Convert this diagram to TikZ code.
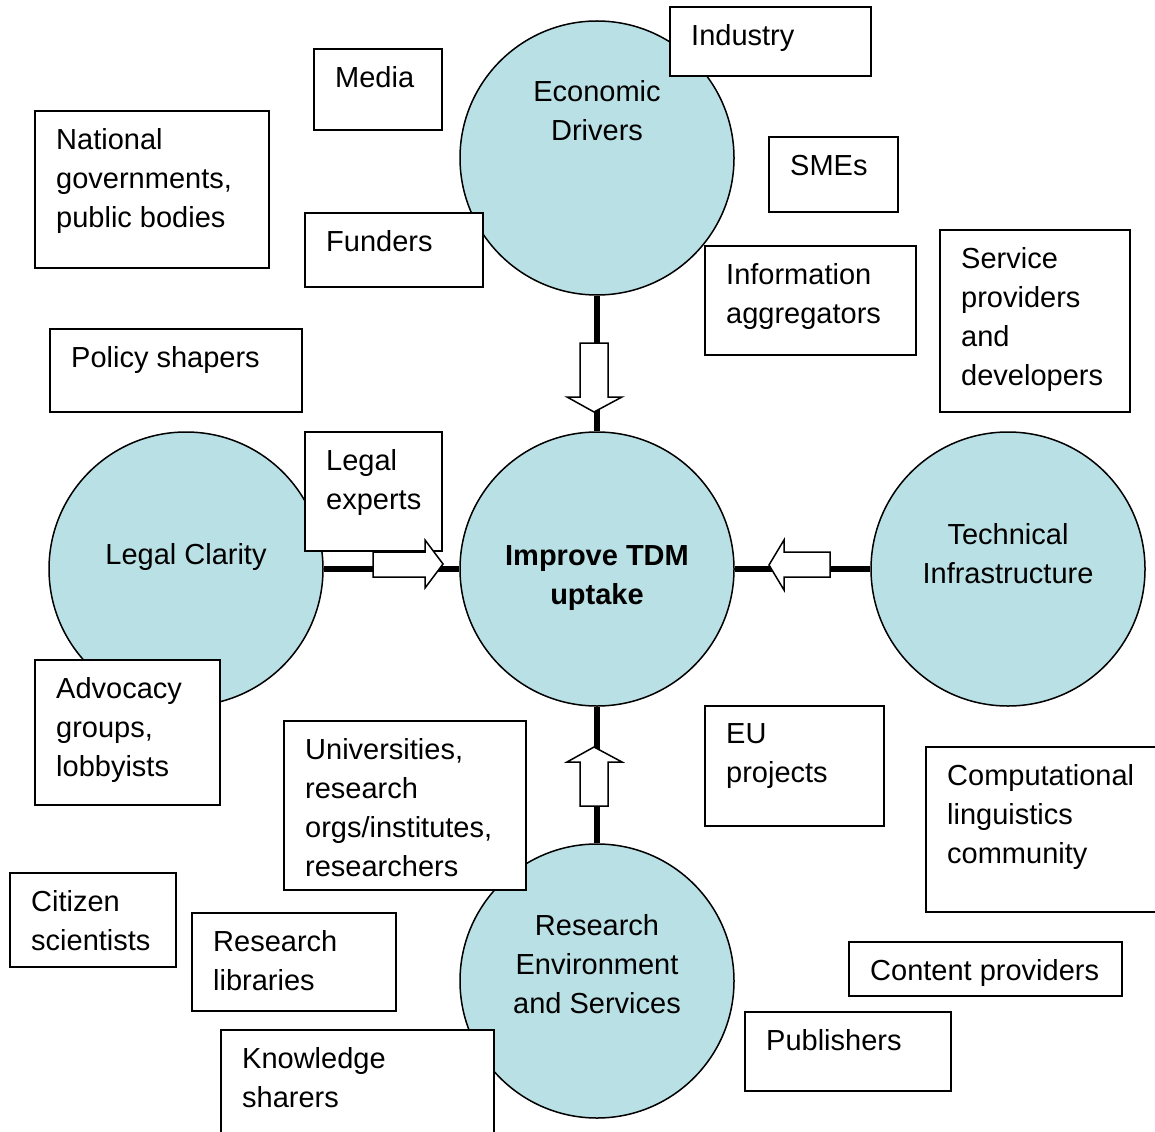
\documentclass[tikz,border=0pt]{standalone}
\usepackage{fontspec}
\setmainfont{Liberation Sans}
\usetikzlibrary{fit}
\definecolor{circfill}{RGB}{185,224,228}
\newcommand\tdmbox[6]{%
  \node[boxst, fit={(#2,#3) (#4,#5)}] (#1) {};
  \node[lbl, anchor=north west] (#1-t) at (#2+21,#3+17.6) {#6};}
\begin{document}
\begin{tikzpicture}[x=1pt,y=-1pt,
  every node/.style={font=\fontsize{29}{39}\selectfont},
  circst/.style={circle, draw=black, line width=1.5pt, fill=circfill, minimum size=274pt, inner sep=0},
  boxst/.style={rectangle, draw=black, line width=1.5pt, fill=white, inner sep=0, outer sep=0},
  lbl/.style={align=left, inner sep=0},
  clbl/.style={align=center, inner sep=0, anchor=north},
  conn/.style={line width=6pt, draw=black},
  blockarrow/.style={draw=black, fill=white, line width=1.5pt, line join=miter}]
\useasboundingbox (0,0) rectangle (1155,1131);
\fill[white] (0,0) rectangle (1155,1131);
% circles
\node[circst] (ed) at (597,158) {};
\node[circst] (tdm) at (597,569) {};
\node[circst] (leg) at (186,569) {};
\node[circst] (tech) at (1008,569) {};
\node[circst] (res) at (597,981) {};
% connectors
\draw[conn] (ed) -- (tdm);
\draw[conn] (leg) -- (tdm);
\draw[conn] (tech) -- (tdm);
\draw[conn] (res) -- (tdm);
% circle labels
\node[clbl] (ed-t) at (597,80.6) {Economic\\Drivers};
\node[clbl] (tdm-t) at (597,545.6) {\bfseries Improve TDM\\\bfseries uptake};
\node[clbl] (leg-t) at (186,543.6) {Legal Clarity};
\node[clbl] (tech-t) at (1008,523.6) {Technical\\Infrastructure};
\node[clbl] (res-t) at (597,914.6) {Research\\Environment\\and Services};
% boxes
\tdmbox{ind}{670}{7}{871}{76}{Industry}
\tdmbox{med}{314}{49}{442}{130}{Media}
\tdmbox{nat}{35}{111}{269}{268}{National\\governments,\\public bodies}
\tdmbox{sme}{769}{137}{898}{212}{SMEs}
\tdmbox{fun}{305}{213}{483}{287}{Funders}
\tdmbox{inf}{705}{246}{916}{355}{Information\\aggregators}
\tdmbox{ser}{940}{230}{1130}{412}{Service\\providers\\and\\developers}
\tdmbox{pol}{50}{329}{302}{412}{Policy shapers}
\tdmbox{lex}{305}{432}{442}{551}{Legal\\experts}
\tdmbox{adv}{35}{660}{220}{805}{Advocacy\\groups,\\lobbyists}
\tdmbox{uni}{284}{721}{526}{890}{Universities,\\research\\orgs/institutes,\\researchers}
\tdmbox{eu}{705}{706}{884}{826}{EU\\projects}
\tdmbox{com}{926}{747}{1165}{912}{Computational\\linguistics\\community}
\tdmbox{cit}{10}{873}{176}{967}{Citizen\\scientists}
\tdmbox{rlib}{192}{913}{396}{1011}{Research\\libraries}
\tdmbox{kno}{221}{1030}{494}{1145}{Knowledge\\sharers}
\tdmbox{con}{849}{942}{1122}{996}{Content providers}
\tdmbox{pub}{745}{1012}{951}{1091}{Publishers}
% block arrows
\draw[blockarrow] (580,343) -- (608,343) -- (608,397) -- (622,397) -- (594,412) -- (567,397) -- (580,397) -- cycle;
\draw[blockarrow] (580,806) -- (608,806) -- (608,762) -- (622,762) -- (594,747) -- (567,762) -- (580,762) -- cycle;
\draw[blockarrow] (373,552) -- (425,552) -- (425,540) -- (443,564) -- (425,588) -- (425,577) -- (373,577) -- cycle;
\draw[blockarrow] (830,552) -- (784,552) -- (784,540) -- (769,565) -- (784,590) -- (784,577) -- (830,577) -- cycle;
\end{tikzpicture}
\end{document}
